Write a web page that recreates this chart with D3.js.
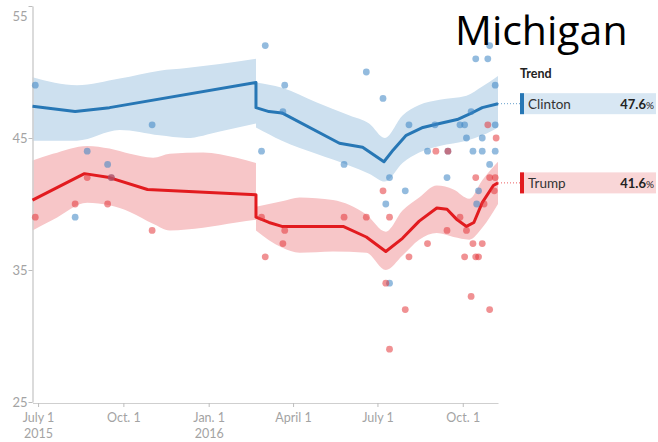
<!DOCTYPE html>
<html>
<head>
<meta charset="utf-8">
<script src="https://cdn.jsdelivr.net/npm/d3@7"></script>
<style>
  body { margin: 0; background: #fff; }
  svg { display: block; }
</style>
</head>
<body>
<svg id="chart" width="658" height="442"></svg>
<script>
// ---- data ----------------------------------------------------------------
const title = "Michigan";
const candidates = ["Clinton", "Trump"];
const finalTrend = [47.6, 41.6];

const yTicks = [25, 35, 45, 55];
const xTicks = ["2015-07-01", "2015-10-01", "2016-01-01", "2016-04-01", "2016-07-01", "2016-10-01"];
const xTickLabels = ["July 1", "Oct. 1", "Jan. 1", "April 1", "July 1", "Oct. 1"];
const xTickYears = ["2015", "", "2016", "", "", ""];
const dateRange = ["2015-06-25", "2016-11-08"];

// individual polls [date, share]
const clintonPolls = [
  ["2015-06-28", 49], ["2015-08-10", 39], ["2015-08-23", 44], ["2015-09-14", 43],
  ["2015-09-18", 42], ["2015-11-01", 46], ["2016-02-27", 44], ["2016-03-02", 52],
  ["2016-03-21", 47], ["2016-03-23", 49], ["2016-05-26", 43], ["2016-06-19", 50],
  ["2016-07-07", 48], ["2016-07-10", 40], ["2016-07-14", 42], ["2016-07-14", 34],
  ["2016-07-31", 41], ["2016-08-04", 46], ["2016-08-24", 44], ["2016-09-01", 46],
  ["2016-09-14", 42], ["2016-09-15", 44], ["2016-09-28", 46], ["2016-10-03", 46],
  ["2016-10-05", 45], ["2016-10-10", 47], ["2016-10-12", 44], ["2016-10-15", 51],
  ["2016-10-16", 40], ["2016-10-18", 41], ["2016-10-22", 45], ["2016-10-22", 44],
  ["2016-10-28", 51], ["2016-10-30", 52], ["2016-10-30", 43], ["2016-11-05", 49],
  ["2016-11-05", 46], ["2016-11-05", 44]
];
const trumpPolls = [
  ["2015-06-28", 39], ["2015-08-10", 40], ["2015-08-23", 42], ["2015-09-14", 40],
  ["2015-09-18", 42], ["2015-11-01", 38], ["2016-02-27", 39], ["2016-03-02", 36],
  ["2016-03-21", 37], ["2016-03-23", 38], ["2016-05-26", 39], ["2016-06-19", 39],
  ["2016-07-07", 41], ["2016-07-10", 34], ["2016-07-14", 39], ["2016-07-14", 29],
  ["2016-07-31", 32], ["2016-08-04", 36], ["2016-08-24", 37], ["2016-09-02", 44],
  ["2016-09-14", 38], ["2016-09-15", 44], ["2016-09-28", 39], ["2016-10-03", 36],
  ["2016-10-05", 38], ["2016-10-10", 33], ["2016-10-12", 37], ["2016-10-15", 42],
  ["2016-10-15", 36], ["2016-10-18", 36], ["2016-10-22", 37], ["2016-10-24", 40],
  ["2016-10-28", 46], ["2016-10-30", 42], ["2016-10-30", 32], ["2016-11-04", 41],
  ["2016-11-05", 42], ["2016-11-06", 45]
];

// trend estimates [date, share]; a repeated date marks the February reset
const clintonTrend = [
  ["2015-06-25", 47.4], ["2015-08-10", 47.0], ["2015-09-16", 47.3], ["2016-02-21", 49.2],
  ["2016-02-21", 47.3], ["2016-03-06", 47.0], ["2016-03-20", 46.9], ["2016-05-21", 44.6],
  ["2016-06-15", 44.3], ["2016-07-08", 43.2], ["2016-07-18", 44.1], ["2016-08-01", 45.2],
  ["2016-08-19", 45.8], ["2016-09-06", 46.1], ["2016-09-25", 46.4], ["2016-10-08", 46.8],
  ["2016-10-22", 47.3], ["2016-11-08", 47.6]
];
const trumpTrend = [
  ["2015-06-25", 40.3], ["2015-08-20", 42.3], ["2015-09-16", 42.0], ["2015-10-27", 41.1],
  ["2016-02-21", 40.7],
  ["2016-02-21", 39.0], ["2016-03-06", 38.6], ["2016-03-20", 38.3], ["2016-05-25", 38.3],
  ["2016-06-19", 37.5], ["2016-07-10", 36.4], ["2016-07-28", 37.4], ["2016-08-15", 38.7],
  ["2016-09-03", 39.7], ["2016-09-14", 39.6], ["2016-09-25", 38.8], ["2016-10-05", 38.3],
  ["2016-10-13", 38.6], ["2016-10-22", 40.1], ["2016-11-03", 41.4], ["2016-11-08", 41.6]
];

// uncertainty bands [date, low, high]
const clintonBand = [
  ["2015-06-25", 44.8, 49.6], ["2015-08-12", 44.8, 49.0], ["2015-09-27", 45.6, 49.5],
  ["2015-11-09", 45.2, 50.1], ["2015-12-08", 45.0, 50.3], ["2016-01-13", 45.5, 50.6],
  ["2016-02-21", 46.1, 51.0],
  ["2016-02-21", 45.8, 49.2], ["2016-03-20", 44.8, 48.8], ["2016-04-26", 43.8, 47.7],
  ["2016-06-01", 42.9, 46.7], ["2016-06-22", 42.3, 46.1], ["2016-07-09", 41.7, 45.0],
  ["2016-07-28", 43.1, 46.7], ["2016-08-15", 43.9, 47.5], ["2016-09-06", 44.4, 47.9],
  ["2016-10-05", 44.8, 48.2], ["2016-10-22", 45.2, 48.9], ["2016-11-08", 45.8, 49.7]
];
const trumpBand = [
  ["2015-06-25", 38.0, 43.3], ["2015-07-17", 38.8, 43.8], ["2015-08-23", 40.1, 44.4],
  ["2015-09-16", 39.9, 44.2], ["2015-10-08", 39.4, 43.8], ["2015-11-02", 38.5, 43.5],
  ["2015-11-20", 38.0, 43.8], ["2015-12-26", 38.2, 43.9], ["2016-01-31", 38.6, 43.5],
  ["2016-02-21", 38.8, 43.1],
  ["2016-02-21", 38.0, 39.8], ["2016-03-20", 36.7, 40.2], ["2016-04-08", 36.3, 40.5],
  ["2016-05-14", 36.4, 40.3], ["2016-06-19", 36.3, 39.2], ["2016-07-10", 35.0, 37.9],
  ["2016-07-28", 36.1, 39.5], ["2016-08-15", 37.3, 40.5], ["2016-09-03", 37.8, 41.4],
  ["2016-09-21", 37.5, 41.1], ["2016-10-08", 37.3, 40.4], ["2016-10-22", 38.2, 41.8],
  ["2016-11-08", 40.0, 43.2]
];

// ---- styling -------------------------------------------------------------
const lineColor = { Clinton: "#2777b5", Trump: "#e21b1f" };
const dotColor = { Clinton: "#3a83c2", Trump: "#e3363b" };
const bandColor = { Clinton: "#cde0ef", Trump: "#f7c6c8" };
const boxColor = { Clinton: "#d8e7f3", Trump: "#f9d6d7" };
const labelFont = "Lato, 'Noto Sans', sans-serif";

// ---- setup ---------------------------------------------------------------
const parse = d3.timeParse("%Y-%m-%d");
const svg = d3.select("#chart");

const x = d3.scaleTime()
  .domain(dateRange.map(parse))
  .range([32.5, 498]);
const y = d3.scaleLinear()
  .domain([25, 55])
  .range([402, 6]);

// split a series wherever a date repeats (the reset in February)
function segments(rows) {
  const out = [[]];
  rows.forEach((r, i) => {
    if (i > 0 && r[0] === rows[i - 1][0]) out.push([]);
    out[out.length - 1].push(r);
  });
  return out;
}

const series = [
  { name: "Clinton", polls: clintonPolls, trend: clintonTrend, band: clintonBand, last: finalTrend[0] },
  { name: "Trump", polls: trumpPolls, trend: trumpTrend, band: trumpBand, last: finalTrend[1] }
];

// ---- bands ---------------------------------------------------------------
const area = d3.area()
  .x(d => x(parse(d[0])))
  .y0(d => y(d[1]))
  .y1(d => y(d[2]))
  .curve(d3.curveMonotoneX);

const bandLayer = svg.append("g");
series.forEach(s => {
  segments(s.band).forEach(seg => {
    bandLayer.append("path")
      .attr("d", area(seg))
      .attr("fill", bandColor[s.name]);
  });
});

// ---- axes ----------------------------------------------------------------
const yAxis = svg.append("g")
  .attr("transform", "translate(32.5,0)")
  .call(d3.axisLeft(y).tickValues(yTicks).tickSize(4).tickSizeOuter(0).tickFormat(d3.format("d")));
yAxis.select(".domain").attr("stroke", "#cfcfcf").attr("stroke-width", 1.5);
yAxis.selectAll(".tick line").attr("stroke", "#bdbdbd");
yAxis.selectAll(".tick text")
  .attr("fill", "#a3a3a3")
  .attr("font-family", labelFont)
  .attr("font-size", 13)
  .attr("x", -5)
  .attr("dy", d => d === 55 ? "1.1em" : "0.32em");

const xAxis = svg.append("g")
  .attr("transform", "translate(0,403)")
  .call(d3.axisBottom(x).tickValues(xTicks.map(parse)).tickSize(4).tickSizeOuter(0).tickFormat(""));
xAxis.select(".domain").attr("stroke", "#cfcfcf").attr("stroke-width", 1.2);
xAxis.selectAll(".tick line").attr("stroke", "#bdbdbd");
xAxis.selectAll(".tick").each(function (d, i) {
  const t = d3.select(this).append("text")
    .attr("fill", "#a3a3a3")
    .attr("font-family", labelFont)
    .attr("font-size", 12.5)
    .attr("text-anchor", "middle");
  t.append("tspan").attr("x", 0).attr("y", 19).text(xTickLabels[i]);
  if (xTickYears[i]) t.append("tspan").attr("x", 0).attr("y", 35).text(xTickYears[i]);
});

// ---- trend lines ---------------------------------------------------------
const line = d3.line()
  .x(d => x(parse(d[0])))
  .y(d => y(d[1]));

series.forEach(s => {
  svg.append("path")
    .attr("d", line(s.trend))
    .attr("fill", "none")
    .attr("stroke", lineColor[s.name])
    .attr("stroke-width", 3)
    .attr("stroke-linejoin", "round");
});

// ---- poll dots -----------------------------------------------------------
series.forEach(s => {
  svg.append("g").selectAll("circle")
    .data(s.polls)
    .join("circle")
    .attr("cx", d => x(parse(d[0])))
    .attr("cy", d => y(d[1]))
    .attr("r", 3.4)
    .attr("fill", dotColor[s.name])
    .attr("fill-opacity", 0.55);
});

// ---- legend --------------------------------------------------------------
const lx = 520, lw = 136, lh = 21;
svg.append("text")
  .attr("x", lx)
  .attr("y", 78)
  .attr("font-family", labelFont)
  .attr("font-weight", "bold")
  .attr("font-size", 12.5)
  .attr("fill", "#222")
  .text("Trend");

series.forEach(s => {
  const cy = y(s.last);
  svg.append("line")
    .attr("x1", x(parse(dateRange[1])))
    .attr("x2", lx)
    .attr("y1", cy)
    .attr("y2", cy)
    .attr("stroke", lineColor[s.name])
    .attr("stroke-opacity", 0.7)
    .attr("stroke-width", 1)
    .attr("stroke-dasharray", "1,2");
  svg.append("rect")
    .attr("x", lx).attr("y", cy - lh / 2)
    .attr("width", lw).attr("height", lh)
    .attr("fill", boxColor[s.name]);
  svg.append("rect")
    .attr("x", lx).attr("y", cy - lh / 2)
    .attr("width", 4).attr("height", lh)
    .attr("fill", lineColor[s.name]);
  svg.append("text")
    .attr("x", lx + 8)
    .attr("y", cy + 5)
    .attr("font-family", labelFont)
    .attr("font-size", 13.5)
    .attr("fill", "#333")
    .text(s.name);
  const v = svg.append("text")
    .attr("x", 654)
    .attr("y", cy + 5)
    .attr("text-anchor", "end")
    .attr("font-family", labelFont)
    .attr("font-weight", "bold")
    .attr("font-size", 13)
    .attr("fill", "#222");
  v.append("tspan").text(d3.format(".1f")(s.last));
  v.append("tspan").attr("font-size", 10).attr("font-weight", "normal").text("%");
});

// ---- title ---------------------------------------------------------------
svg.append("text")
  .attr("x", 455)
  .attr("y", 45)
  .attr("font-family", "'Open Sans', sans-serif")
  .attr("font-size", 41)
  .attr("fill", "#000")
  .text(title);
</script>
</body>
</html>
